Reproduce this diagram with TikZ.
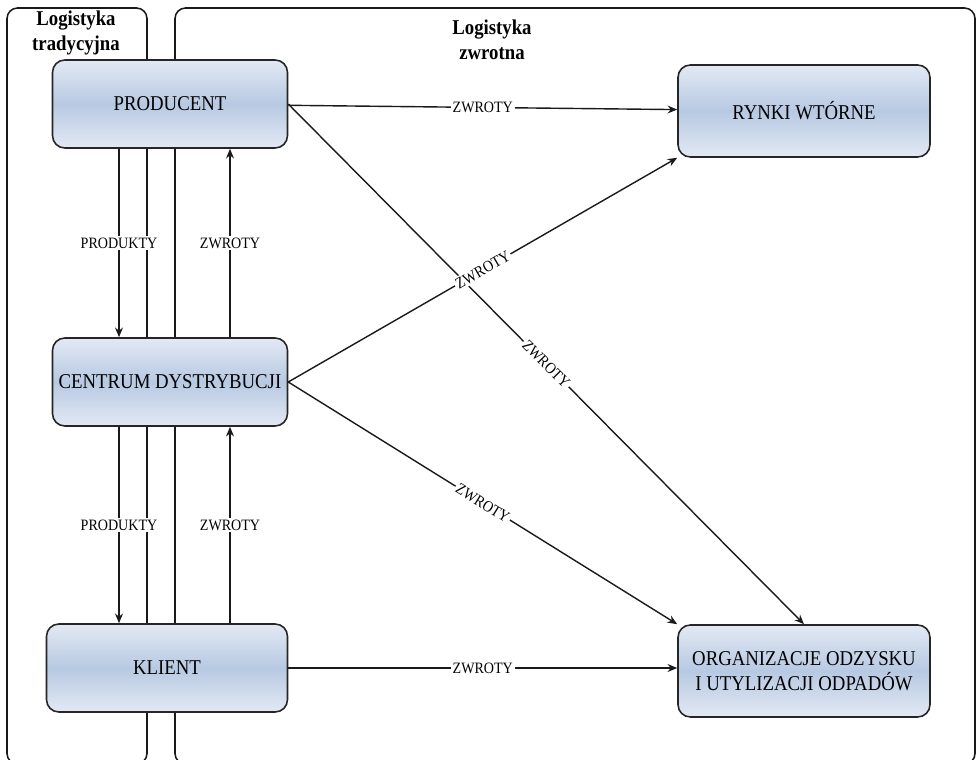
\documentclass[tikz,border=0pt]{standalone}
\usepackage{fontspec}
\setmainfont{Liberation Serif}[FakeStretch=0.89]
\usetikzlibrary{arrows.meta, positioning}
\definecolor{LaneBlack}{HTML}{1A1A1A}
\definecolor{BoxEdge}{HTML}{262626}
\definecolor{BoxLight}{HTML}{E3E9F4}
\definecolor{BoxMid}{HTML}{B7C9E2}
\tikzset{
    % Lane styles
    lane/.style={
        draw=LaneBlack,
        line width=0.9pt,
        rounded corners=6pt
    },
    lanetitle/.style={
        align=center,
        font=\bfseries\fontsize{12}{14.5}\selectfont
    },
    % Box style - shaded, rounded
    stage/.style={
        rectangle,
        rounded corners=7pt,
        draw=BoxEdge,
        line width=0.9pt,
        top color=BoxLight,
        bottom color=BoxLight,
        middle color=BoxMid,
        minimum width=4.7cm,
        minimum height=1.76cm,
        align=center,
        font=\fontsize{12}{14.5}\selectfont
    },
    % Arrow styles
    flow/.style={
        -{Stealth[length=5.5pt,width=4.5pt]},
        line width=0.8pt,
        draw=LaneBlack
    },
    flowlabel/.style={
        fill=white,
        inner sep=1pt,
        font=\fontsize{9}{10}\selectfont
    }
}

\begin{document}
\begin{tikzpicture}[x=0.02cm, y=-0.02cm]
    \useasboundingbox (0,0) rectangle (980,760);

    % Lanes
    \draw[lane] (7,764) rectangle (147,8);
    \draw[lane] (175,764) rectangle (975,8);
    \node[lanetitle] (tradtitle) at (76,33) {Logistyka\\tradycyjna};
    \node[lanetitle] (zwrtitle) at (492,40) {Logistyka\\zwrotna};

    % Traditional chain
    \node[stage] (prod) at (170,104) {PRODUCENT};
    \node[stage] (centrum) at (170,382) {CENTRUM DYSTRYBUCJI};
    \node[stage, minimum width=4.82cm] (klient) at (167,668) {KLIENT};

    % Reverse logistics targets
    \node[stage, minimum width=5.04cm, minimum height=1.84cm] (rynki) at (804,111) {RYNKI WTÓRNE};
    \node[stage, minimum width=5.04cm, minimum height=1.84cm] (org) at (804,671) {ORGANIZACJE ODZYSKU\\I UTYLIZACJI ODPADÓW};

    % Forward and return flows
    \draw[flow] (prod.south -| 119,0) -- node[flowlabel] {PRODUKTY} (centrum.north -| 119,0);
    \draw[flow] (centrum.north -| 230,0) -- node[flowlabel] {ZWROTY} (prod.south -| 230,0);
    \draw[flow] (centrum.south -| 119,0) -- node[flowlabel] {PRODUKTY} (klient.north -| 119,0);
    \draw[flow] (klient.north -| 230,0) -- node[flowlabel] {ZWROTY} (centrum.south -| 230,0);

    % Returns to the right lane
    \draw[flow] (prod) -- node[flowlabel] {ZWROTY} (rynki);
    \draw[flow] (prod.east) -- node[flowlabel, sloped] {ZWROTY} (org.north);
    \draw[flow] (centrum.east) -- node[flowlabel, sloped] {ZWROTY} (rynki.south west);
    \draw[flow] (centrum.east) -- node[flowlabel, sloped] {ZWROTY} (org.north west);
    \draw[flow] (klient.east) -- node[flowlabel] {ZWROTY} (klient.east -| org.west);
\end{tikzpicture}
\end{document}
